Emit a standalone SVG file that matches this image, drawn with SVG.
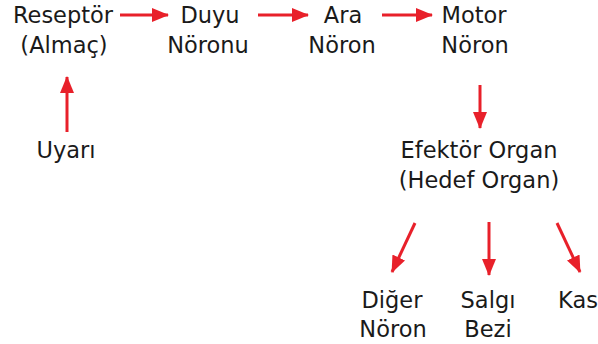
<svg xmlns="http://www.w3.org/2000/svg" width="598" height="344" viewBox="0 0 598 344">
  <style>
    text { font-family: "Comic Sans MS", "DejaVu Sans", sans-serif; font-size: 22.5px; fill: #1a1a1a; text-anchor: middle; }
    .arrow { stroke: #e8202a; stroke-width: 3; fill: none; marker-end: url(#head); }
  </style>
  <defs>
    <marker id="head" markerUnits="userSpaceOnUse" markerWidth="18" markerHeight="14" refX="16" refY="7" orient="auto">
      <path d="M0,0 L17,7 L0,14 Z" fill="#e8202a"/>
    </marker>
  </defs>
  <rect width="598" height="344" fill="#ffffff"/>

  <g id="connectors">
    <line class="arrow" x1="120" y1="15" x2="168" y2="15"/>
    <line class="arrow" x1="258" y1="15" x2="308" y2="15"/>
    <line class="arrow" x1="382" y1="15" x2="432" y2="15"/>
    <line class="arrow" x1="67" y1="132" x2="67" y2="77"/>
    <line class="arrow" x1="480" y1="85" x2="480" y2="128"/>
    <line class="arrow" x1="415" y1="223" x2="392" y2="272"/>
    <line class="arrow" x1="489" y1="222" x2="489" y2="275"/>
    <line class="arrow" x1="557" y1="223" x2="580" y2="272"/>
  </g>

  <g id="reseptor">
    <text x="63" y="23">Reseptör</text>
    <text x="64" y="53">(Almaç)</text>
  </g>
  <g id="duyu">
    <text x="210" y="23">Duyu</text>
    <text x="208" y="53">Nöronu</text>
  </g>
  <g id="ara">
    <text x="343" y="23">Ara</text>
    <text x="342" y="53">Nöron</text>
  </g>
  <g id="motor">
    <text x="474" y="23">Motor</text>
    <text x="475" y="53">Nöron</text>
  </g>
  <g id="uyari">
    <text x="66" y="158">Uyarı</text>
  </g>
  <g id="efektor">
    <text x="479" y="158">Efektör Organ</text>
    <text x="479" y="188">(Hedef Organ)</text>
  </g>
  <g id="diger">
    <text x="392" y="308">Diğer</text>
    <text x="393" y="337">Nöron</text>
  </g>
  <g id="salgi">
    <text x="488" y="308">Salgı</text>
    <text x="488" y="337">Bezi</text>
  </g>
  <g id="kas">
    <text x="578" y="308">Kas</text>
  </g>
</svg>
